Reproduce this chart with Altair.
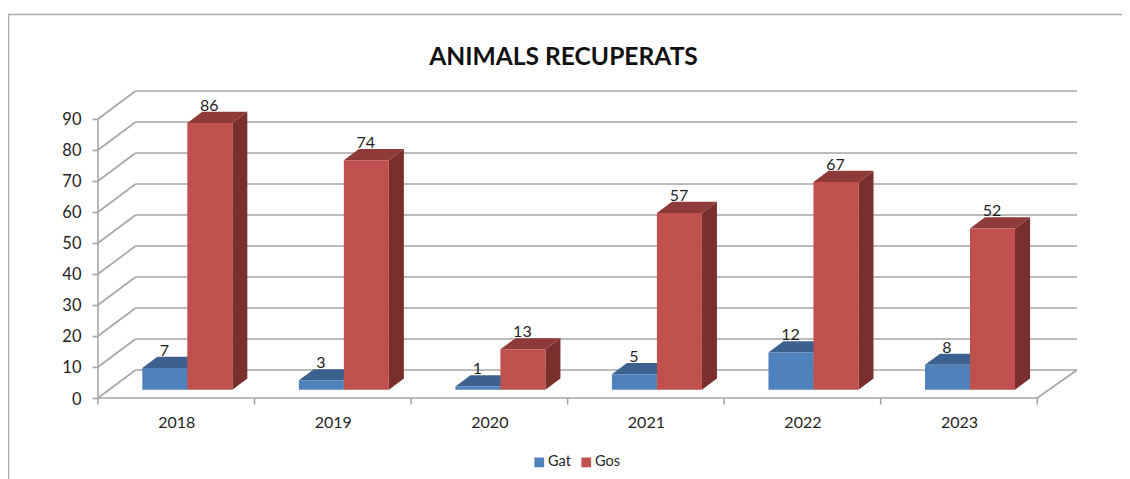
import altair as alt
import pandas as pd

years = [2018, 2019, 2020, 2021, 2022, 2023]
gat = [7, 3, 1, 5, 12, 8]
gos = [86, 74, 13, 57, 67, 52]
y_ticks = list(range(0, 100, 10))
series = ["Gat", "Gos"]
front_colors = ["#4F81BD", "#C0504D"]
top_colors = ["#3C618F", "#8E3A38"]
side_colors = ["#335478", "#7A2F2D"]

FONT = "Lato"
GRID = "#A6A6A6"
TEXT = "#1F1F1F"
# 3-D geometry in data units (categories, values)
WALL_DX, WALL_DY = 0.24, 9.03
BAR_DX, BAR_DY = 0.096, 3.6
BAR_BASE = 2.7
BAR_START, BAR_W = 0.283, 0.2875
n = len(years)
x_dom = [0, n + WALL_DX + 0.014]
y_dom = [0, 99.03]
xs = alt.Scale(domain=x_dom, nice=False, zero=False)
ys = alt.Scale(domain=y_dom, nice=False, zero=False)
year_expr = "[" + ",".join(f"'{y}'" for y in years) + "][floor(datum.value)]"
x_axis = alt.Axis(values=[i + 0.5 for i in range(n)], labelExpr=year_expr, ticks=False, domain=False, grid=False,
                  labelFont=FONT, labelFontSize=16, labelColor=TEXT, labelPadding=16, title=None)
y_axis = alt.Axis(values=y_ticks, domain=False, grid=False, tickSize=6, tickColor=GRID, tickWidth=1.6,
                  labelFont=FONT, labelFontSize=16.5, labelColor=TEXT, labelPadding=11, labelOffset=1, title=None)
X = lambda f="x": alt.X(f"{f}:Q", scale=xs, axis=x_axis, title=None)
Y = lambda f="y": alt.Y(f"{f}:Q", scale=ys, axis=y_axis, title=None, stack=None)

# grid lines ----------------------------------------------------------------
rows, gid = [], 0
def seg(x0, y0, x1, y1):
    global gid
    rows.extend([{"g": gid, "o": 0, "x": x0, "y": y0}, {"g": gid, "o": 1, "x": x1, "y": y1}])
    gid += 1
for v in y_ticks:
    seg(0, v, WALL_DX, v + WALL_DY)
    seg(WALL_DX, v + WALL_DY, x_dom[1], v + WALL_DY)
seg(0, 0, 0, y_ticks[-1])
seg(0, 0, n, 0)
seg(n, 0, x_dom[1], WALL_DY)
for i in range(n + 1):
    seg(i, 0, i, -2.1)
grid = alt.Chart(pd.DataFrame(rows)).mark_line(color=GRID, strokeWidth=1.6, clip=False).encode(
    x=X(), y=Y(), detail="g:N", order="o:Q")

# bars ----------------------------------------------------------------------
layers = [grid]
color_scale = alt.Scale(domain=series, range=front_colors)
for s, (name, vals) in enumerate(zip(series, [gat, gos])):
    fr, tp, sd = [], [], []
    for i, v in enumerate(vals):
        x0 = i + BAR_START + s * BAR_W
        x1 = x0 + BAR_W
        top = v + BAR_BASE
        fr.append({"x": x0, "x2": x1, "y": BAR_BASE, "y2": top, "series": name, "v": v, "xc": (x0 + x1) / 2 , "yl": top + BAR_DY})
        tp += [{"i": i, "y": top, "x": x0, "x2": x1},
               {"i": i, "y": top + BAR_DY, "x": x0 + BAR_DX, "x2": x1 + BAR_DX}]
        sd += [{"i": i, "x": x1, "y": BAR_BASE, "y2": top},
               {"i": i, "x": x1 + BAR_DX, "y": BAR_BASE + BAR_DY, "y2": top + BAR_DY}]
    df_t, df_s, df_f = pd.DataFrame(tp), pd.DataFrame(sd), pd.DataFrame(fr)
    layers.append(alt.Chart(df_s).mark_area(color=side_colors[s], clip=False).encode(
        x=X(), y=Y(), y2="y2:Q", detail="i:N"))
    layers.append(alt.Chart(df_t).mark_area(color=top_colors[s], orient="horizontal", clip=False).encode(
        y=Y(), x=X(), x2="x2:Q", detail="i:N"))
    layers.append(alt.Chart(df_f).mark_rect(clip=False).encode(
        x=X(), x2="x2:Q", y=Y(), y2="y2:Q",
        color=alt.Color("series:N", scale=color_scale, title=None, legend=alt.Legend(
            orient="none", legendX=434, legendY=364, direction="horizontal", columns=2,
            symbolType="square", symbolSize=95, symbolStrokeWidth=0, labelFont=FONT, labelFontSize=14.5,
            labelColor=TEXT, columnPadding=8, labelOffset=1.5))))
    layers.append(alt.Chart(df_f).mark_text(font=FONT, fontSize=16, color=TEXT, baseline="alphabetic", dy=-1, dx=-0.5, clip=False).encode(
        x=X("xc"), y=Y("yl"), text="v:Q"))

# outer frame ---------------------------------------------------------------
frame_top = alt.Chart(pd.DataFrame({"a": [0]})).mark_rule(color="#ABABAB", strokeWidth=1.6).encode(
    x=alt.value(-90), x2=alt.value(1040), y=alt.value(-76.5))
frame_left = alt.Chart(pd.DataFrame({"a": [0]})).mark_rule(color="#ABABAB", strokeWidth=1.6).encode(
    x=alt.value(-89.5), y=alt.value(-76.5), y2=alt.value(400))
layers += [frame_top, frame_left]

chart = alt.layer(*layers).properties(
    width=979, height=307,
    padding={"left": 90, "top": 83, "right": 45, "bottom": 81},
    autosize=alt.AutoSizeParams(type="none"),
    background="white",
    title=alt.TitleParams("ANIMALS RECUPERATS", font=FONT, fontSize=24.6, fontWeight="bold",
                          color="#111111", anchor="middle", dx=-24, offset=-57),
).configure_view(stroke=None)

chart.save("out.html", embed_options={"renderer": "svg", "actions": False})
